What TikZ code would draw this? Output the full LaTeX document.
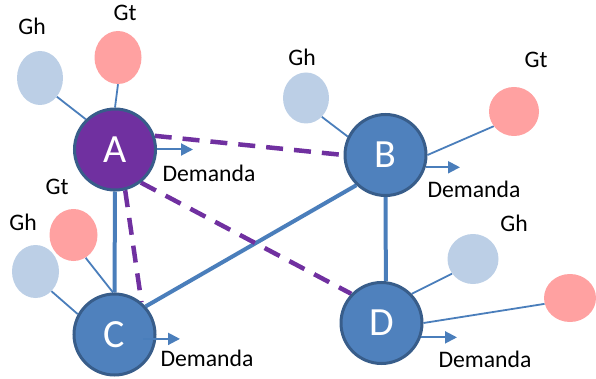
\documentclass[tikz,border=0pt]{standalone}
\usepackage{fontspec}
\setmainfont{Carlito}
\usetikzlibrary{shapes.geometric,arrows.meta,backgrounds}
\definecolor{busfill}{HTML}{4F81BD}
\definecolor{busedge}{HTML}{385D8A}
\definecolor{slackfill}{HTML}{7030A0}
\definecolor{hydro}{HTML}{BCCFE6}
\definecolor{thermal}{HTML}{FFA1A1}
\definecolor{linkblue}{HTML}{4A7EBB}

\begin{document}
\begin{tikzpicture}[x=1pt,y=-1pt,
  bus/.style={circle, draw=busedge, line width=3pt, fill=busfill, minimum size=81pt,
    inner sep=0pt, text=white, font=\fontsize{40}{40}\selectfont},
  gen/.style={ellipse, draw=none, inner sep=0pt},
  gh/.style={gen, fill=hydro},
  gt/.style={gen, fill=thermal},
  lbl/.style={font=\fontsize{23.7}{24}\selectfont, inner sep=0pt},
  tie/.style={draw=linkblue, line width=1.8pt},
  trunk/.style={draw=linkblue, line width=4pt},
  future/.style={draw=slackfill, line width=4.5pt, dash pattern=on 17pt off 11pt},
  demand/.style={draw=linkblue, line width=2pt, -{Triangle[length=12pt,width=12pt]}},
]
\useasboundingbox (0,0) rectangle (596,379);

% buses
\node[bus, fill=slackfill] (A) at (115,149.5) {A};
\node[bus] (B) at (385.5,155) {B};
\node[bus] (C) at (114.5,334.5) {C};
\node[bus] (D) at (381.5,323) {D};

% generators
\node[gh, minimum width=46pt, minimum height=54pt] (ghA) at (40,78) {};
\node[gt, minimum width=47pt, minimum height=53pt] (gtA) at (118,57.5) {};
\node[gh, minimum width=46pt, minimum height=51pt] (ghB) at (306,98) {};
\node[gt, minimum width=50pt, minimum height=49pt] (gtB) at (514,111.5) {};
\node[gt, minimum width=48pt, minimum height=52pt] (gtC) at (73.5,235) {};
\node[gh, minimum width=47pt, minimum height=53pt] (ghC) at (35.5,271.5) {};
\node[gh, minimum width=51pt, minimum height=50pt] (ghD) at (473,259) {};
\node[gt, minimum width=52pt, minimum height=48pt] (gtD) at (570,298) {};

% generator labels
\node[lbl] (lghA) at (32,26) {Gh};
\node[lbl] (lgtA) at (125,13) {Gt};
\node[lbl] (lghB) at (302,57) {Gh};
\node[lbl] (lgtB) at (536,60) {Gt};
\node[lbl] (lgtC) at (57,187) {Gt};
\node[lbl] (lghC) at (23,222) {Gh};
\node[lbl] (lghD) at (514,223) {Gh};

% demand labels
\node[lbl] (ldA) at (209,173) {Demanda};
\node[lbl] (ldB) at (474,189) {Demanda};
\node[lbl] (ldC) at (207,358) {Demanda};
\node[lbl] (ldD) at (485,359) {Demanda};

% demand arrow ends
\coordinate (dA) at (193,150);
\coordinate (dB) at (460,168);
\coordinate (dC) at (180,339);
\coordinate (dD) at (457,337);

\begin{scope}[on background layer]
  % generator ties
  \draw[tie] (ghA.-48) -- (A.134);
  \draw[tie] (gtA.south) -- (A.north);
  \draw[tie] (ghB.-50) -- (B.154);
  \draw[tie] (gtB.-144) -- (B.east);
  \draw[tie] (gtC.-62) -- (C.92);
  \draw[tie] (ghC.-51) -- (C.151);
  \draw[tie] (ghD.-145) -- (D.44);
  \draw[tie] (gtD.-167) -- (D.east);
  % existing lines
  \draw[trunk] (A.south) -- (C.north);
  \draw[trunk] (B.south) -- (D.84);
  \draw[trunk] (C.42) -- (B.226);
  % candidate lines
  \draw[future] (A.19) -- (B.west);
  \draw[future] (A.-52) -- (D.136);
  \draw[future] (A.-76) -- (C.50);
\end{scope}

% demands
\draw[demand] (A.east) -- (A.east -| dA);
\draw[demand] (B.-17) -- (B.-17 -| dB);
\draw[demand, shorten <=-13pt] (C.-6) -- (C.-6 -| dC);
\draw[demand] (D.-20) -- (D.-20 -| dD);
\end{tikzpicture}
\end{document}
